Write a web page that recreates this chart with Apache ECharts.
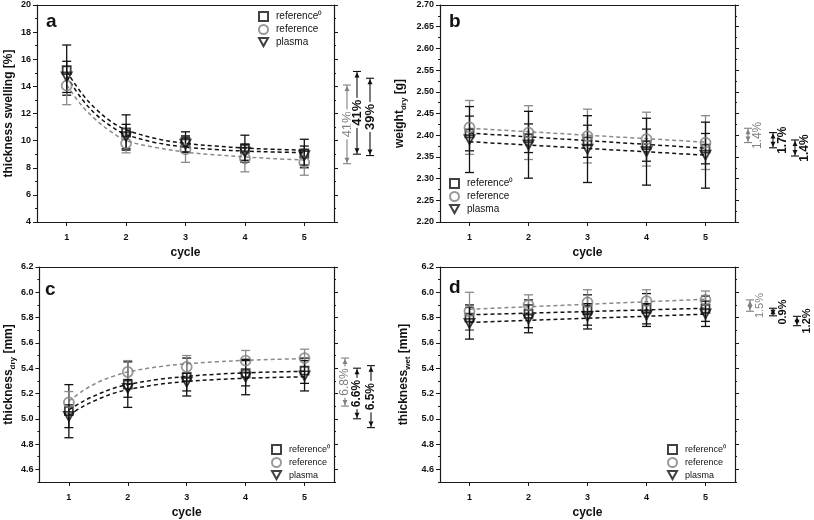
<!DOCTYPE html>
<html><head><meta charset="utf-8">
<script src="https://cdn.jsdelivr.net/npm/echarts@6/dist/echarts.min.js"></script>
<style>html,body{margin:0;padding:0;background:#fff}#c{width:814px;height:520px}</style>
</head><body><div id="c"></div>
<script>
// ---------- data ----------
const cycles = [1, 2, 3, 4, 5];
const xTicks = [1, 2, 3, 4, 5];
const fitX = [1, 1.25, 1.5, 1.75, 2, 2.5, 3, 3.5, 4, 4.5, 5];
const lineX = [1, 5];
const seriesNames = ['reference\u2070', 'reference', 'plasma'];

// panel a: thickness swelling [%]
const aRef0 = [15.2, 10.6, 9.9, 9.4, 9.05];
const aRef0Err = [1.85, 1.3, 0.75, 1.0, 1.05];
const aRef = [14.05, 9.8, 9.35, 8.7, 8.4];
const aRefErr = [1.4, 0.7, 0.95, 1.0, 0.95];
const aPlasma = [14.7, 10.3, 9.75, 9.15, 8.9];
const aPlasmaErr = [1.15, 0.9, 0.6, 0.6, 0.7];
const aRef0Fit = [15.1, 13.5, 12.3, 11.4, 10.8, 10.15, 9.8, 9.6, 9.45, 9.36, 9.3];
const aRefFit = [14.1, 12.6, 11.5, 10.65, 10.0, 9.5, 9.15, 8.95, 8.8, 8.67, 8.57];
const aPlasmaFit = [14.75, 13.1, 11.9, 11.05, 10.45, 9.85, 9.52, 9.34, 9.23, 9.16, 9.11];
const aYTicks = [4, 6, 8, 10, 12, 14, 16, 18, 20];
const aYMinor = [5, 7, 9, 11, 13, 15, 17, 19];
const aAnnTop = [14.1, 15.1, 14.6];
const aAnnBot = [8.3, 9.0, 8.9];
const aAnnLabel = ['41%', '41%', '39%'];

// panel b: weight dry [g]
const bRef0 = [2.404, 2.393, 2.386, 2.377, 2.369];
const bRef0Err = [0.040, 0.033, 0.037, 0.037, 0.035];
const bRef = [2.418, 2.406, 2.398, 2.391, 2.383];
const bRefErr = [0.062, 0.062, 0.062, 0.062, 0.062];
const bPlasma = [2.390, 2.378, 2.368, 2.362, 2.354];
const bPlasmaErr = [0.076, 0.077, 0.077, 0.077, 0.076];
const bRef0Fit = [2.405, 2.370];
const bRefFit = [2.416, 2.384];
const bPlasmaFit = [2.385, 2.354];
const bYTicks = [2.20, 2.25, 2.30, 2.35, 2.40, 2.45, 2.50, 2.55, 2.60, 2.65, 2.70];
const bYMinor = [2.225, 2.275, 2.325, 2.375, 2.425, 2.475, 2.525, 2.575, 2.625, 2.675];
const bAnnTop = [2.416, 2.406, 2.389];
const bAnnBot = [2.383, 2.371, 2.352];
const bAnnLabel = ['1.4%', '1.7%', '1.4%'];

// panel c: thickness dry [mm]
const cRef0 = [5.06, 5.27, 5.33, 5.36, 5.38];
const cRef0Err = [0.21, 0.18, 0.15, 0.10, 0.10];
const cRef = [5.13, 5.37, 5.41, 5.46, 5.48];
const cRefErr = [0.085, 0.09, 0.09, 0.08, 0.07];
const cPlasma = [5.02, 5.24, 5.29, 5.33, 5.34];
const cPlasmaErr = [0.09, 0.07, 0.07, 0.14, 0.12];
const cRef0Fit = [5.07, 5.14, 5.195, 5.24, 5.27, 5.31, 5.335, 5.352, 5.363, 5.37, 5.375];
const cRefFit = [5.14, 5.225, 5.29, 5.335, 5.37, 5.41, 5.435, 5.45, 5.462, 5.47, 5.475];
const cPlasmaFit = [5.03, 5.10, 5.155, 5.20, 5.23, 5.27, 5.295, 5.31, 5.32, 5.327, 5.332];
const cdYTicks = [4.6, 4.8, 5.0, 5.2, 5.4, 5.6, 5.8, 6.0, 6.2];
const cdYMinor = [4.5, 4.7, 4.9, 5.1, 5.3, 5.5, 5.7, 5.9, 6.1];
const cAnnTop = [5.48, 5.40, 5.42];
const cAnnBot = [5.10, 5.00, 4.93];
const cAnnLabel = ['6.8%', '6.6%', '6.5%'];

// panel d: thickness wet [mm]
const dRef0 = [5.80, 5.83, 5.86, 5.87, 5.87];
const dRef0Err = [0.10, 0.11, 0.12, 0.12, 0.10];
const dRef = [5.85, 5.90, 5.92, 5.93, 5.94];
const dRefErr = [0.15, 0.08, 0.10, 0.09, 0.07];
const dPlasma = [5.755, 5.79, 5.81, 5.82, 5.83];
const dPlasmaErr = [0.125, 0.11, 0.10, 0.09, 0.10];
const dRef0Fit = [5.822, 5.874];
const dRefFit = [5.866, 5.945];
const dPlasmaFit = [5.762, 5.827];
const dAnnTop = [5.94, 5.874, 5.81];
const dAnnBot = [5.85, 5.814, 5.736];
const dAnnLabel = ['1.5%', '0.9%', '1.2%'];

// ---------- styling / layout ----------
const BLACK = '#111111', GRAY = '#808080', GRAYLINE = '#8a8a8a';
const FONT = '"Liberation Sans", Arial, sans-serif';
const TRI = 'path://M0,0 L10,0 L5,9 Z';

const panels = [
  { key: 'a', grid: {left: 37, top: 5, width: 297, height: 217},
    yMin: 4, yMax: 20, yTicks: aYTicks, yMinor: aYMinor, dec: 0,
    yName: 'thickness swelling [%]', nameGap: 18,
    vals: [aRef0, aRef, aPlasma], errs: [aRef0Err, aRefErr, aPlasmaErr],
    fits: [aRef0Fit, aRefFit, aPlasmaFit], fx: fitX, smooth: 0.35,
    legend: {left: 258, top: 11, fontSize: 10},
    letter: {left: 46, top: 12},
    ann: {tops: aAnnTop, bots: aAnnBot, labels: aAnnLabel, offsets: [13, 23, 36], inline: true, fontSize: 13} },
  { key: 'b', grid: {left: 440, top: 5, width: 295, height: 217},
    yMin: 2.2, yMax: 2.7, yTicks: bYTicks, yMinor: bYMinor, dec: 2,
    yName: 'weight{sub|dry} [g]', nameGap: 32,
    vals: [bRef0, bRef, bPlasma], errs: [bRef0Err, bRefErr, bPlasmaErr],
    fits: [bRef0Fit, bRefFit, bPlasmaFit], fx: lineX, smooth: false,
    legend: {left: 449, top: 178, fontSize: 10},
    letter: {left: 449, top: 12},
    ann: {tops: bAnnTop, bots: bAnnBot, labels: bAnnLabel, offsets: [13, 38, 60], inline: false, fontSize: 12} },
  { key: 'c', grid: {left: 37, top: 267, width: 297, height: 216},
    yMin: 4.5, yMax: 6.2, yTicks: cdYTicks, yMinor: cdYMinor, dec: 1,
    yName: 'thickness{sub|dry} [mm]', nameGap: 22,
    vals: [cRef0, cRef, cPlasma], errs: [cRef0Err, cRefErr, cPlasmaErr],
    fits: [cRef0Fit, cRefFit, cPlasmaFit], fx: fitX, smooth: 0.35,
    legend: {left: 271, top: 444, fontSize: 9},
    letter: {left: 45, top: 280},
    ann: {tops: cAnnTop, bots: cAnnBot, labels: cAnnLabel, offsets: [11, 23, 37], inline: true, fontSize: 12} },
  { key: 'd', grid: {left: 440, top: 267, width: 295, height: 216},
    yMin: 4.5, yMax: 6.2, yTicks: cdYTicks, yMinor: cdYMinor, dec: 1,
    yName: 'thickness{sub|wet} [mm]', nameGap: 28,
    vals: [dRef0, dRef, dPlasma], errs: [dRef0Err, dRefErr, dPlasmaErr],
    fits: [dRef0Fit, dRefFit, dPlasmaFit], fx: lineX, smooth: false,
    legend: {left: 667, top: 444, fontSize: 9},
    letter: {left: 449, top: 278},
    ann: {tops: dAnnTop, bots: dAnnBot, labels: dAnnLabel, offsets: [15, 38, 62], inline: false, fontSize: 11} }
];

// style for series 0: reference0 (square, black), 1: reference (circle, gray), 2: plasma (triangle, black)
const markStyles = [
  {symbol: 'rect', size: 8, color: BLACK, line: BLACK},
  {symbol: 'circle', size: 10, color: GRAY, line: GRAYLINE},
  {symbol: TRI, size: [10, 9], color: BLACK, line: BLACK}
];
const annColors = [GRAY, BLACK, BLACK];

function errRender(color) {
  return function (params, api) {
    const x = api.value(0), y = api.value(1), e = api.value(2);
    const t = api.coord([x, y + e]), b = api.coord([x, y - e]);
    const w = 4.5;
    const st = {stroke: color, lineWidth: 1.3, fill: null};
    return {type: 'group', children: [
      {type: 'line', shape: {x1: t[0], y1: t[1], x2: b[0], y2: b[1]}, style: st},
      {type: 'line', shape: {x1: t[0] - w, y1: t[1], x2: t[0] + w, y2: t[1]}, style: st},
      {type: 'line', shape: {x1: b[0] - w, y1: b[1], x2: b[0] + w, y2: b[1]}, style: st}
    ]};
  };
}

function annRender(p) {
  const a = p.ann;
  return function (params, api) {
    const i = params.dataIndex;
    const top = api.value(1), bot = api.value(2);
    const edge = api.coord([5.5, top]);
    const x = edge[0] + a.offsets[i];
    const yT = edge[1], yB = api.coord([5.5, bot])[1];
    const col = annColors[i];
    const st = {stroke: col, lineWidth: 1.1, fill: null};
    const w = 4;
    const ah = 5, aw = 2.5;
    const children = [
      {type: 'line', shape: {x1: x, y1: yT, x2: x, y2: yB}, style: st},
      {type: 'line', shape: {x1: x - w, y1: yT, x2: x + w, y2: yT}, style: st},
      {type: 'line', shape: {x1: x - w, y1: yB, x2: x + w, y2: yB}, style: st},
      {type: 'polygon', shape: {points: [[x, yT + 1], [x - aw, yT + 1 + ah], [x + aw, yT + 1 + ah]]}, style: {fill: col}},
      {type: 'polygon', shape: {points: [[x, yB - 1], [x - aw, yB - 1 - ah], [x + aw, yB - 1 - ah]]}, style: {fill: col}}
    ];
    children.push({
      type: 'text', x: a.inline ? x : x + 10, y: (yT + yB) / 2, rotation: Math.PI / 2,
      style: {
        text: a.labels[i], fill: col, fontFamily: FONT, fontSize: a.fontSize,
        fontWeight: i === 0 ? 'normal' : 'bold', align: 'center', verticalAlign: 'middle',
        backgroundColor: a.inline ? '#fff' : null, padding: a.inline ? [0, 2] : 0
      }
    });
    return {type: 'group', children};
  };
}

const option = {
  animation: false,
  backgroundColor: '#fff',
  textStyle: {fontFamily: FONT},
  grid: [], xAxis: [], yAxis: [], series: [], legend: [], title: []
};

const axisLine = {show: true, lineStyle: {color: '#1a1a1a', width: 1.2}};
const tickLine = {color: '#1a1a1a', width: 1};

panels.forEach((p, k) => {
  option.grid.push(Object.assign({containLabel: false}, p.grid));
  option.xAxis.push({
    gridIndex: k, type: 'value', min: 0.5, max: 5.5, position: 'bottom',
    axisLine, axisTick: {show: true, customValues: xTicks, length: 4, lineStyle: tickLine},
    axisLabel: {customValues: xTicks, fontSize: 9, fontWeight: 'bold', color: '#111', margin: 11, fontFamily: FONT},
    splitLine: {show: false},
    name: 'cycle', nameLocation: 'middle', nameGap: 25,
    nameTextStyle: {fontSize: 12, fontWeight: 'bold', color: '#111', fontFamily: FONT}
  });
  option.xAxis.push({
    gridIndex: k, type: 'value', min: 0.5, max: 5.5, position: 'top',
    axisLine, axisTick: {show: false}, axisLabel: {show: false}, splitLine: {show: false}
  });
  const fmt = v => Number(v).toFixed(p.dec);
  option.yAxis.push({
    gridIndex: k, type: 'value', min: p.yMin, max: p.yMax, position: 'left',
    axisLine, axisTick: {show: true, customValues: p.yTicks, length: 4, lineStyle: tickLine},
    axisLabel: {customValues: p.yTicks, formatter: fmt, fontSize: 9, fontWeight: 'bold', color: '#111', margin: 6, fontFamily: FONT},
    splitLine: {show: false},
    name: p.yName, nameLocation: 'middle', nameGap: p.nameGap, nameRotate: 90,
    nameTextStyle: {fontSize: 12, fontWeight: 'bold', color: '#111', fontFamily: FONT, lineHeight: 16,
      rich: {sub: {fontSize: 8, fontWeight: 'bold', color: '#111', fontFamily: FONT, lineHeight: 16, verticalAlign: 'bottom', padding: [6, 0, 0, 0]}}}
  });
  option.yAxis.push({
    gridIndex: k, type: 'value', min: p.yMin, max: p.yMax, position: 'left',
    axisLine: {show: false}, axisTick: {show: true, customValues: p.yMinor, length: 2, lineStyle: tickLine},
    axisLabel: {show: false}, splitLine: {show: false}
  });
  option.yAxis.push({
    gridIndex: k, type: 'value', min: p.yMin, max: p.yMax, position: 'right',
    axisLine, axisTick: {show: true, customValues: p.yTicks, length: 4, lineStyle: tickLine},
    axisLabel: {show: false}, splitLine: {show: false}
  });
  option.yAxis.push({
    gridIndex: k, type: 'value', min: p.yMin, max: p.yMax, position: 'right',
    axisLine: {show: false}, axisTick: {show: true, customValues: p.yMinor, length: 2, lineStyle: tickLine},
    axisLabel: {show: false}, splitLine: {show: false}
  });
  const xi = 2 * k, yi = 4 * k;
  p.fits.forEach((f, s) => {
    option.series.push({
      type: 'line', xAxisIndex: xi, yAxisIndex: yi, silent: true, z: 2,
      data: p.fx.map((x, i) => [x, f[i]]), smooth: p.smooth, showSymbol: false, symbol: 'none',
      lineStyle: {color: markStyles[s].line, width: 1.5, type: [4, 3]}
    });
  });
  p.vals.forEach((v, s) => {
    option.series.push({
      type: 'custom', xAxisIndex: xi, yAxisIndex: yi, silent: true, z: 3,
      renderItem: errRender(markStyles[s].line),
      encode: {x: 0, y: 1},
      data: cycles.map((c, i) => [c, v[i], p.errs[s][i]])
    });
  });
  p.vals.forEach((v, s) => {
    const m = markStyles[s];
    option.series.push({
      type: 'scatter', name: p.key + '|' + s, xAxisIndex: xi, yAxisIndex: yi, z: 4,
      symbol: m.symbol, symbolSize: m.size,
      itemStyle: {color: 'rgba(255,255,255,0)', borderColor: m.color, borderWidth: 1.8},
      data: cycles.map((c, i) => [c, v[i]])
    });
  });
  option.series.push({
    type: 'custom', xAxisIndex: xi, yAxisIndex: yi, silent: true, z: 5, clip: false,
    renderItem: annRender(p), encode: {x: 0, y: 1},
    data: p.ann.tops.map((t, i) => [5.5, t, p.ann.bots[i]])
  });
  option.legend.push({
    data: [0, 1, 2].map(s => p.key + '|' + s), orient: 'vertical', padding: 0,
    left: p.legend.left, top: p.legend.top, itemWidth: 9, itemHeight: 9, itemGap: 2,
    selectedMode: false,
    formatter: n => seriesNames[Number(n.split('|')[1])],
    textStyle: {fontSize: p.legend.fontSize, color: '#111', fontFamily: FONT, padding: [0, 0, 0, 3]}
  });
  option.title.push({
    text: p.key, left: p.letter.left, top: p.letter.top, padding: 0,
    textStyle: {fontSize: 19, fontWeight: 'bold', color: '#111', fontFamily: FONT}
  });
});

const chart = echarts.init(document.getElementById('c'), null, {renderer: 'canvas'});
chart.setOption(option);
</script>
</body></html>
